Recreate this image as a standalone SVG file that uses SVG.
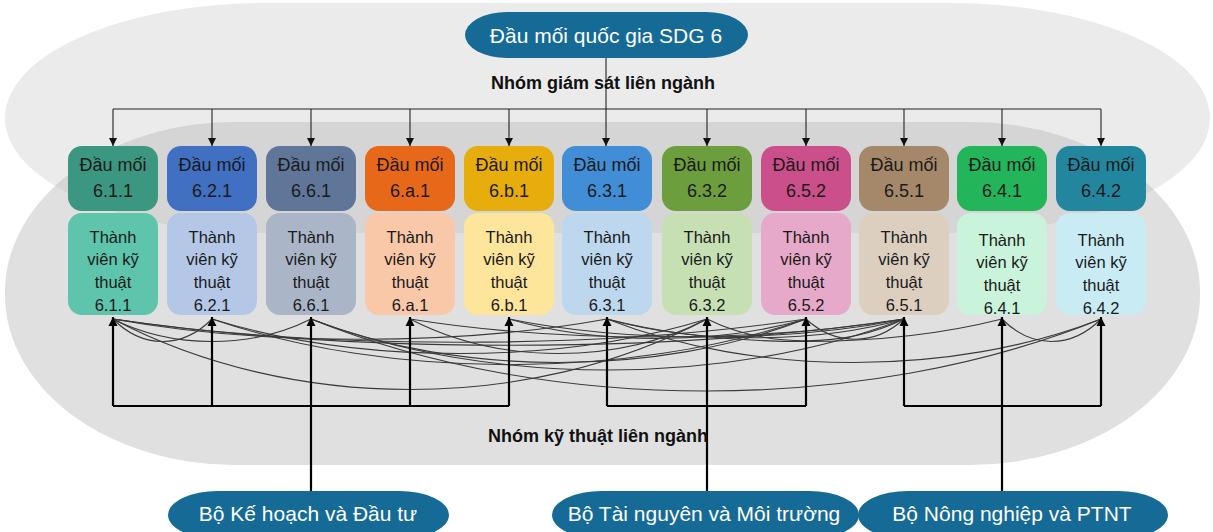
<svg xmlns="http://www.w3.org/2000/svg" width="1213" height="532" viewBox="0 0 1213 532">
<defs>
<style>
.hd{font-family:"Liberation Sans",Arial,sans-serif;font-size:18px;fill:#1a1a1a;text-anchor:middle}
.mb{font-family:"Liberation Sans",Arial,sans-serif;font-size:16.5px;fill:#1a1a1a;text-anchor:middle}
.ov{fill:#166a96}
.ovt{font-family:"Liberation Sans",Arial,sans-serif;font-size:21px;fill:#ffffff;text-anchor:middle}
.grp{font-family:"Liberation Sans",Arial,sans-serif;font-size:18px;font-weight:bold;fill:#111;text-anchor:middle}
.thin{fill:none;stroke:#222;stroke-width:1.1}
.thick{fill:none;stroke:#000;stroke-width:2.2}
.crv{fill:none;stroke:#3a3a3a;stroke-width:1.1}
</style>
<marker id="arrDown" viewBox="0 0 10 10" refX="10" refY="5" markerWidth="10" markerHeight="8" markerUnits="userSpaceOnUse" orient="auto">
<path d="M0,0 L10,5 L0,10 z" fill="#111"/>
</marker>
<marker id="arrUp" viewBox="0 0 10 10" refX="10" refY="5" markerWidth="9" markerHeight="11" markerUnits="userSpaceOnUse" orient="auto">
<path d="M0,0 L10,5 L0,10 z" fill="#000"/>
</marker>
<clipPath id="topClip">
<rect x="5" y="3" width="1205" height="230" rx="260" ry="115"/>
</clipPath>
</defs>

<g id="background">
<rect x="5" y="3" width="1205" height="230" rx="260" ry="115" fill="#ebebeb"/>
<rect x="5" y="122" width="1195" height="343" rx="230" ry="170" fill="#e0e0e0"/>
<rect x="5" y="122" width="1195" height="343" rx="230" ry="170" fill="#d5d5d5" clip-path="url(#topClip)"/>
</g>

<g id="connectors">
<path class="thin" d="M606,58 V146" marker-end="url(#arrDown)"/>
<path class="thin" d="M113,109 H1101"/>
<path class="thin" d="M113,109 V146" marker-end="url(#arrDown)"/>
<path class="thin" d="M212,109 V146" marker-end="url(#arrDown)"/>
<path class="thin" d="M311,109 V146" marker-end="url(#arrDown)"/>
<path class="thin" d="M410,109 V146" marker-end="url(#arrDown)"/>
<path class="thin" d="M509,109 V146" marker-end="url(#arrDown)"/>
<path class="thin" d="M707,109 V146" marker-end="url(#arrDown)"/>
<path class="thin" d="M806,109 V146" marker-end="url(#arrDown)"/>
<path class="thin" d="M904,109 V146" marker-end="url(#arrDown)"/>
<path class="thin" d="M1002,109 V146" marker-end="url(#arrDown)"/>
<path class="thin" d="M1101,109 V146" marker-end="url(#arrDown)"/>

<path class="crv" d="M113,319 C142.7,349 182.3,349 212,319"/>
<path class="crv" d="M113,319 C172.4,349 251.6,349 311,319"/>
<path class="crv" d="M113,319 C261.2,346 458.8,346 607,319"/>
<path class="crv" d="M113,319 C320.9,350 598.1,350 806,319"/>
<path class="crv" d="M113,319 C350.3,354 666.7,354 904,319"/>
<path class="crv" d="M113,319 C291.2,413 528.8,413 707,319"/>
<path class="crv" d="M212,319 C360.5,365 558.5,365 707,319"/>
<path class="crv" d="M212,319 C390.2,380 627.8,380 806,319"/>
<path class="crv" d="M311,319 C459.5,377 657.5,377 806,319"/>
<path class="crv" d="M311,319 C488.9,387 726.1,387 904,319"/>
<path class="crv" d="M311,319 C548,415 864,415 1101,319"/>
<path class="crv" d="M410,319 C558.2,343 755.8,343 904,319"/>
<path class="crv" d="M410,319 C499.1,365 617.9,365 707,319"/>
<path class="crv" d="M509,319 C598.1,345 716.9,345 806,319"/>
<path class="crv" d="M509,319 C627.5,343 785.5,343 904,319"/>
<path class="crv" d="M607,319 C755.2,377 952.8,377 1101,319"/>
<path class="crv" d="M607,319 C725.5,349 883.5,349 1002,319"/>
<path class="crv" d="M607,319 C696.1,344 814.9,344 904,319"/>
<path class="crv" d="M707,319 C766.1,348 844.9,348 904,319"/>
<path class="crv" d="M806,319 C835.4,346 874.6,346 904,319"/>
<path class="crv" d="M1002,319 C1031.7,349 1071.3,349 1101,319"/>

<path class="thick" d="M113,406 H509"/>
<path class="thick" d="M113,406 V317" marker-end="url(#arrUp)"/>
<path class="thick" d="M212,406 V317" marker-end="url(#arrUp)"/>
<path class="thick" d="M410,406 V317" marker-end="url(#arrUp)"/>
<path class="thick" d="M509,406 V317" marker-end="url(#arrUp)"/>
<path class="thick" d="M311,492 V317" marker-end="url(#arrUp)"/>

<path class="thick" d="M607,406 H806"/>
<path class="thick" d="M607,406 V317" marker-end="url(#arrUp)"/>
<path class="thick" d="M806,406 V317" marker-end="url(#arrUp)"/>
<path class="thick" d="M707,492 V317" marker-end="url(#arrUp)"/>

<path class="thick" d="M904,406 H1101"/>
<path class="thick" d="M904,406 V317" marker-end="url(#arrUp)"/>
<path class="thick" d="M1101,406 V317" marker-end="url(#arrUp)"/>
<path class="thick" d="M1002,492 V317" marker-end="url(#arrUp)"/>
</g>

<g id="labels">
<text class="grp" x="603" y="89">Nhóm giám sát liên ngành</text>
<text class="grp" x="598" y="442">Nhóm kỹ thuật liên ngành</text>
</g>

<g id="node-national">
<rect class="ov" x="465" y="12" width="283" height="46" rx="42" ry="23"/>
<text class="ovt" x="606" y="43">Đầu mối quốc gia SDG 6</text>
</g>

<g id="node-611">
<rect x="68" y="146" width="90" height="65" rx="14" fill="#3c9780"/>
<text class="hd" x="113" y="171">Đầu mối</text><text class="hd" x="113" y="197">6.1.1</text>
<rect x="68" y="213" width="90" height="102" rx="14" fill="#5ec4ab"/>
<text class="mb" x="113" y="243">Thành</text><text class="mb" x="113" y="265">viên kỹ</text><text class="mb" x="113" y="288">thuật</text><text class="mb" x="113" y="311">6.1.1</text>
</g>
<g id="node-621">
<rect x="167" y="146" width="90" height="65" rx="14" fill="#4170c2"/>
<text class="hd" x="212" y="171">Đầu mối</text><text class="hd" x="212" y="197">6.2.1</text>
<rect x="167" y="213" width="90" height="102" rx="14" fill="#b4c7e7"/>
<text class="mb" x="212" y="243">Thành</text><text class="mb" x="212" y="265">viên kỹ</text><text class="mb" x="212" y="288">thuật</text><text class="mb" x="212" y="311">6.2.1</text>
</g>
<g id="node-661">
<rect x="266" y="146" width="90" height="65" rx="14" fill="#607698"/>
<text class="hd" x="311" y="171">Đầu mối</text><text class="hd" x="311" y="197">6.6.1</text>
<rect x="266" y="213" width="90" height="102" rx="14" fill="#aab5c8"/>
<text class="mb" x="311" y="243">Thành</text><text class="mb" x="311" y="265">viên kỹ</text><text class="mb" x="311" y="288">thuật</text><text class="mb" x="311" y="311">6.6.1</text>
</g>
<g id="node-6a1">
<rect x="365" y="146" width="90" height="65" rx="14" fill="#e8681a"/>
<text class="hd" x="410" y="171">Đầu mối</text><text class="hd" x="410" y="197">6.a.1</text>
<rect x="365" y="213" width="90" height="102" rx="14" fill="#f8c8a8"/>
<text class="mb" x="410" y="243">Thành</text><text class="mb" x="410" y="265">viên kỹ</text><text class="mb" x="410" y="288">thuật</text><text class="mb" x="410" y="311">6.a.1</text>
</g>
<g id="node-6b1">
<rect x="464" y="146" width="90" height="65" rx="14" fill="#e6ad0c"/>
<text class="hd" x="509" y="171">Đầu mối</text><text class="hd" x="509" y="197">6.b.1</text>
<rect x="464" y="213" width="90" height="102" rx="14" fill="#fde59b"/>
<text class="mb" x="509" y="243">Thành</text><text class="mb" x="509" y="265">viên kỹ</text><text class="mb" x="509" y="288">thuật</text><text class="mb" x="509" y="311">6.b.1</text>
</g>
<g id="node-631">
<rect x="562" y="146" width="90" height="65" rx="14" fill="#418ed6"/>
<text class="hd" x="607" y="171">Đầu mối</text><text class="hd" x="607" y="197">6.3.1</text>
<rect x="562" y="213" width="90" height="102" rx="14" fill="#bdd7ee"/>
<text class="mb" x="607" y="243">Thành</text><text class="mb" x="607" y="265">viên kỹ</text><text class="mb" x="607" y="288">thuật</text><text class="mb" x="607" y="311">6.3.1</text>
</g>
<g id="node-632">
<rect x="662" y="146" width="90" height="65" rx="14" fill="#6c9e3d"/>
<text class="hd" x="707" y="171">Đầu mối</text><text class="hd" x="707" y="197">6.3.2</text>
<rect x="662" y="213" width="90" height="102" rx="14" fill="#c6e0b4"/>
<text class="mb" x="707" y="243">Thành</text><text class="mb" x="707" y="265">viên kỹ</text><text class="mb" x="707" y="288">thuật</text><text class="mb" x="707" y="311">6.3.2</text>
</g>
<g id="node-652">
<rect x="761" y="146" width="90" height="65" rx="14" fill="#cb4f8b"/>
<text class="hd" x="806" y="171">Đầu mối</text><text class="hd" x="806" y="197">6.5.2</text>
<rect x="761" y="213" width="90" height="102" rx="14" fill="#e7a9c9"/>
<text class="mb" x="806" y="243">Thành</text><text class="mb" x="806" y="265">viên kỹ</text><text class="mb" x="806" y="288">thuật</text><text class="mb" x="806" y="311">6.5.2</text>
</g>
<g id="node-651">
<rect x="859" y="146" width="90" height="65" rx="14" fill="#a5886a"/>
<text class="hd" x="904" y="171">Đầu mối</text><text class="hd" x="904" y="197">6.5.1</text>
<rect x="859" y="213" width="90" height="102" rx="14" fill="#dccfc0"/>
<text class="mb" x="904" y="243">Thành</text><text class="mb" x="904" y="265">viên kỹ</text><text class="mb" x="904" y="288">thuật</text><text class="mb" x="904" y="311">6.5.1</text>
</g>
<g id="node-641">
<rect x="957" y="146" width="90" height="65" rx="14" fill="#22b55a"/>
<text class="hd" x="1002" y="171">Đầu mối</text><text class="hd" x="1002" y="197">6.4.1</text>
<rect x="957" y="213" width="90" height="102" rx="14" fill="#c9f3da"/>
<text class="mb" x="1002" y="246">Thành</text><text class="mb" x="1002" y="268">viên kỹ</text><text class="mb" x="1002" y="291">thuật</text><text class="mb" x="1002" y="314">6.4.1</text>
</g>
<g id="node-642">
<rect x="1056" y="146" width="90" height="65" rx="14" fill="#23869f"/>
<text class="hd" x="1101" y="171">Đầu mối</text><text class="hd" x="1101" y="197">6.4.2</text>
<rect x="1056" y="213" width="90" height="102" rx="14" fill="#c9ebf4"/>
<text class="mb" x="1101" y="246">Thành</text><text class="mb" x="1101" y="268">viên kỹ</text><text class="mb" x="1101" y="291">thuật</text><text class="mb" x="1101" y="314">6.4.2</text>
</g>

<g id="node-mpi">
<rect class="ov" x="168" y="491" width="281" height="48" rx="50" ry="24"/>
<text class="ovt" x="308" y="521">Bộ Kế hoạch và Đầu tư</text>
</g>
<g id="node-monre">
<rect class="ov" x="552" y="491" width="307" height="48" rx="50" ry="24"/>
<text class="ovt" x="704" y="521">Bộ Tài nguyên và Môi trường</text>
</g>
<g id="node-mard">
<rect class="ov" x="858" y="491" width="310" height="48" rx="50" ry="24"/>
<text class="ovt" x="1012" y="521">Bộ Nông nghiệp và PTNT</text>
</g>
</svg>
